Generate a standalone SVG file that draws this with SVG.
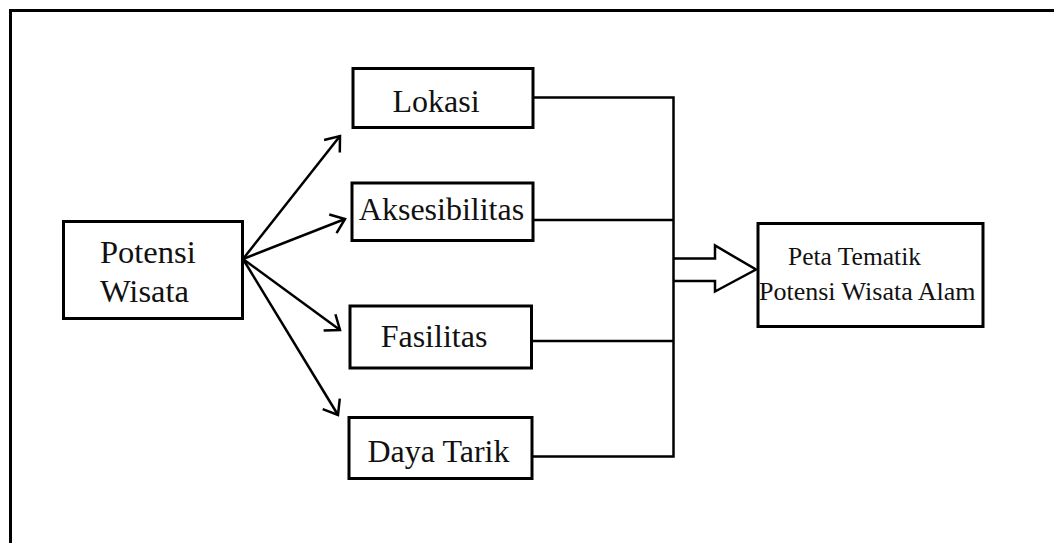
<svg xmlns="http://www.w3.org/2000/svg" width="1054" height="543" viewBox="0 0 1054 543">
<style>
.box{fill:#fff;stroke:#000;stroke-width:3}
.t{font-family:"Liberation Serif","Times New Roman",serif;fill:#111}
.c{fill:none;stroke:#000;stroke-width:2.5}
</style>
<defs>
<marker id="ah" markerUnits="userSpaceOnUse" markerWidth="40" markerHeight="40" refX="0" refY="0" viewBox="-20 -20 40 40" orient="auto" overflow="visible">
<path d="M-13,-10 L0,0 L-13,10" fill="none" stroke="#000" stroke-width="2.5"/>
</marker>
</defs>
<rect width="1054" height="543" fill="#fff"/>
<rect x="10.5" y="10.5" width="1100" height="600" fill="none" stroke="#000" stroke-width="3"/>
<g id="connectors">
<line class="c" x1="243" y1="259" x2="340" y2="136" marker-end="url(#ah)"/>
<line class="c" x1="243" y1="259" x2="345" y2="219" marker-end="url(#ah)"/>
<line class="c" x1="243" y1="259" x2="340" y2="330" marker-end="url(#ah)"/>
<line class="c" x1="243" y1="259" x2="338" y2="415" marker-end="url(#ah)"/>
<path class="c" d="M533,97.5 H673.5 V456.5 H532 M533,220 H673.5 M531.5,341 H673.5"/>
<path class="c" d="M673.5,258.5 H715 V245.5 L756,269.5 L715,291.5 V281 H673.5" stroke-linejoin="miter"/>
</g>
<g id="potensi-wisata">
<rect class="box" x="63.5" y="221.5" width="179" height="97"/>
<text class="t" x="100" y="263" font-size="32.5">Potensi</text>
<text class="t" x="100" y="301.5" font-size="32.5">Wisata</text>
</g>
<g id="lokasi">
<rect class="box" x="353" y="68.5" width="180" height="59"/>
<text class="t" x="436" y="111.5" font-size="32" text-anchor="middle">Lokasi</text>
</g>
<g id="aksesibilitas">
<rect class="box" x="352" y="183" width="181" height="57.5"/>
<text class="t" x="441.5" y="220" font-size="32" text-anchor="middle">Aksesibilitas</text>
</g>
<g id="fasilitas">
<rect class="box" x="350" y="306" width="181.5" height="62"/>
<text class="t" x="434" y="346.5" font-size="32" text-anchor="middle">Fasilitas</text>
</g>
<g id="daya-tarik">
<rect class="box" x="349" y="417.5" width="183" height="61"/>
<text class="t" x="438.5" y="461.5" font-size="32" text-anchor="middle">Daya Tarik</text>
</g>
<g id="peta-tematik">
<rect class="box" x="758" y="223.5" width="225" height="103"/>
<text class="t" x="788" y="265" font-size="25.5">Peta Tematik</text>
<text class="t" x="759" y="299.5" font-size="26">Potensi Wisata Alam</text>
</g>
</svg>
